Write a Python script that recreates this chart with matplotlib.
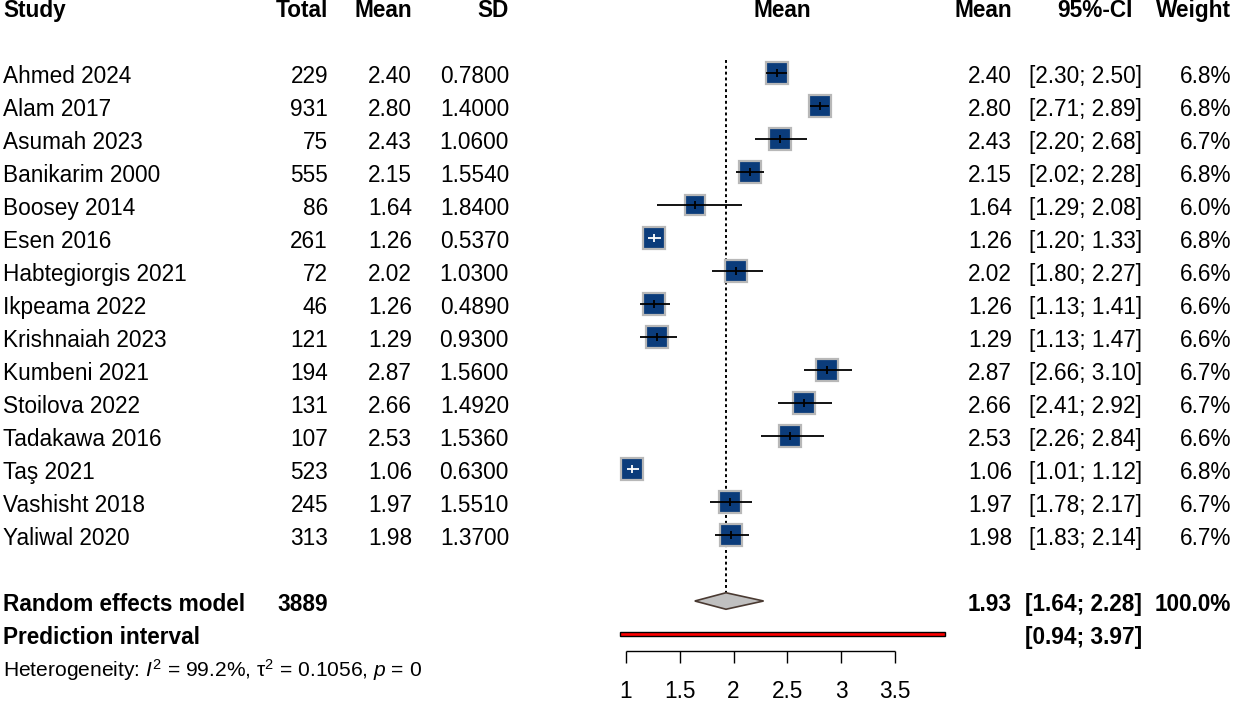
import numpy as np
import matplotlib
matplotlib.use("Agg")
import matplotlib.pyplot as plt
from matplotlib.patches import Polygon, Rectangle

plt.rcParams['font.family'] = ['Liberation Sans', 'DejaVu Sans']
plt.rcParams['mathtext.fontset'] = 'custom'
plt.rcParams['mathtext.rm'] = 'Liberation Sans'
plt.rcParams['mathtext.it'] = 'Liberation Sans:italic'
plt.rcParams['mathtext.bf'] = 'Liberation Sans:bold'

# данные исследований
studies = ["Ahmed 2024", "Alam 2017", "Asumah 2023", "Banikarim 2000", "Boosey 2014",
           "Esen 2016", "Habtegiorgis 2021", "Ikpeama 2022", "Krishnaiah 2023",
           "Kumbeni 2021", "Stoilova 2022", "Tadakawa 2016", "Taş 2021",
           "Vashisht 2018", "Yaliwal 2020"]
total = [229, 931, 75, 555, 86, 261, 72, 46, 121, 194, 131, 107, 523, 245, 313]
mean = [2.40, 2.80, 2.43, 2.15, 1.64, 1.26, 2.02, 1.26, 1.29, 2.87, 2.66, 2.53, 1.06, 1.97, 1.98]
sd = [0.7800, 1.4000, 1.0600, 1.5540, 1.8400, 0.5370, 1.0300, 0.4890, 0.9300,
      1.5600, 1.4920, 1.5360, 0.6300, 1.5510, 1.3700]
ci_lo = [2.30, 2.71, 2.20, 2.02, 1.29, 1.20, 1.80, 1.13, 1.13, 2.66, 2.41, 2.26, 1.01, 1.78, 1.83]
ci_hi = [2.50, 2.89, 2.68, 2.28, 2.08, 1.33, 2.27, 1.41, 1.47, 3.10, 2.92, 2.84, 1.12, 2.17, 2.14]
weight = [6.8, 6.8, 6.7, 6.8, 6.0, 6.8, 6.6, 6.6, 6.6, 6.7, 6.7, 6.6, 6.8, 6.7, 6.7]

# объединённая оценка
re_total = 3889
re_mean, re_lo, re_hi = 1.93, 1.64, 2.28
pi_lo, pi_hi = 0.94, 3.97
axis_ticks = [1, 1.5, 2, 2.5, 3, 3.5]
het_text = "Heterogeneity: $I^2$ = 99.2%, τ$^2$ = 0.1056, $p$ = 0"

W, H = 1235, 703
fs = 16.3
BOX = '#0b3c7b'
BOXEDGE = '#b8b8b8'

fig = plt.figure(figsize=(W / 100, H / 100), dpi=100)

# строки: центр строки r в пикселях = 7 + 33*r
def r2lim():
    return ((H - 7) / 33.0, -7 / 33.0)

ax = fig.add_axes([0, 0, 1, 1])
ax.set_xlim(0, W)
ax.set_ylim(*r2lim())
ax.axis('off')

# область графика: x=1 -> 626 px, 107.5 px на единицу
px0, ppu = 626.0, 107.5
fl, fr = 590.0, 970.0
fax = fig.add_axes([fl / W, 0, (fr - fl) / W, 1])
fax.set_xlim(1 + (fl - px0) / ppu, 1 + (fr - px0) / ppu)
fax.set_ylim(*r2lim())
fax.axis('off')
fax.patch.set_alpha(0)

off = 10 / 33.0  # смещение базовой линии текста

def txt(x, r, s, ha='right', bold=False, size=fs, axis=ax):
    axis.text(x, r + off, s, ha=ha, va='baseline', fontsize=size,
              fontweight='bold' if bold else 'normal', color='black')

# заголовки
txt(3, 0, "Study", ha='left', bold=True)
txt(328, 0, "Total", bold=True)
txt(412, 0, "Mean", bold=True)
txt(509, 0, "SD", bold=True)
txt((pi_lo + pi_hi) / 2, 0, "Mean", ha='center', bold=True, axis=fax)
txt(1012, 0, "Mean", bold=True)
txt(1133, 0, "95%-CI", bold=True)
txt(1231, 0, "Weight", bold=True)

for i, name in enumerate(studies):
    r = i + 2
    txt(3, r, name, ha='left')
    txt(328, r, f"{total[i]}")
    txt(412, r, f"{mean[i]:.2f}")
    txt(509, r, f"{sd[i]:.4f}")
    txt(1012, r, f"{mean[i]:.2f}")
    txt(1142, r, f"[{ci_lo[i]:.2f}; {ci_hi[i]:.2f}]")
    txt(1231, r, f"{weight[i]:.1f}%")

    ms = 15.6 * np.sqrt(weight[i] / max(weight))
    fax.plot(mean[i], r, marker='s', ms=ms, mfc=BOX, mec=BOXEDGE, mew=1.6, zorder=3)
    col = 'white' if ci_hi[i] - ci_lo[i] < 0.15 else 'black'
    fax.hlines(r, ci_lo[i], ci_hi[i], color=col, lw=1.3, zorder=4)
    fax.plot(mean[i], r, marker='|', ms=6, mew=1.3, color=col, zorder=4)

# модель случайных эффектов
r_re = 18
txt(3, r_re, "Random effects model", ha='left', bold=True)
txt(328, r_re, f"{re_total}", bold=True)
txt(1012, r_re, f"{re_mean:.2f}", bold=True)
txt(1142, r_re, f"[{re_lo:.2f}; {re_hi:.2f}]", bold=True)
txt(1231, r_re, "100.0%", bold=True)
dh = 0.25
fax.add_patch(Polygon([(re_lo, r_re), (re_mean, r_re - dh), (re_hi, r_re), (re_mean, r_re + dh)],
                      closed=True, facecolor='#c0c0c0', edgecolor='#4a3a32', lw=1.2, zorder=3))
fax.vlines(re_mean, 1.6, r_re - dh, color='black', lw=1.4, linestyles=(0, (1.5, 1.5)), zorder=2)

# интервал прогноза
r_pi = 19
txt(3, r_pi, "Prediction interval", ha='left', bold=True)
txt(1142, r_pi, f"[{pi_lo:.2f}; {pi_hi:.2f}]", bold=True)
ph = 0.075
fax.add_patch(Rectangle((pi_lo, r_pi - ph), pi_hi - pi_lo, 2 * ph,
                        facecolor='red', edgecolor='black', lw=1.0, zorder=3))

# гетерогенность
txt(3, 20, het_text, ha='left', size=15.1)

# ось
r_ax = (651 - 7) / 33.0
r_tk = (663 - 7) / 33.0
fax.hlines(r_ax, axis_ticks[0], axis_ticks[-1], color='black', lw=1.0)
fax.vlines(axis_ticks, r_ax, r_tk, color='black', lw=1.0)
for t in axis_ticks:
    fax.text(t, (698 - 7) / 33.0, f"{t:g}", ha='center', va='baseline', fontsize=fs)

fig.savefig("out.png", dpi=100)
